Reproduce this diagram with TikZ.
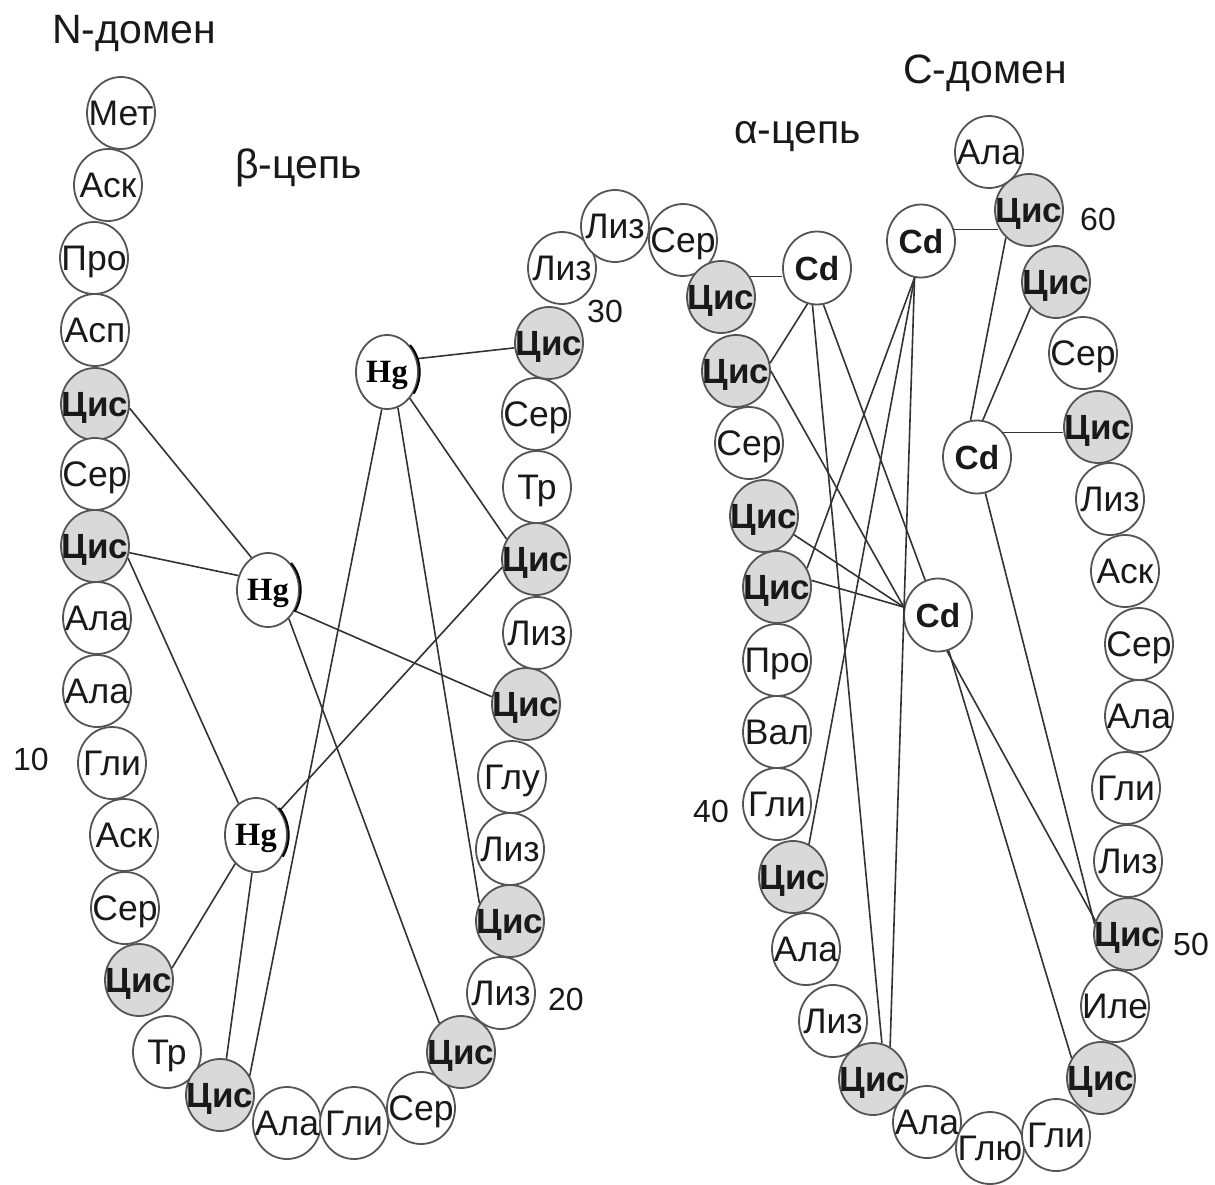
\documentclass[tikz,border=0pt]{standalone}
\usepackage{fontspec}
\setmainfont{Liberation Sans}
\newfontfamily\hgfont{Liberation Serif}
\usetikzlibrary{shapes.geometric}
\definecolor{olc}{gray}{0.33}
\definecolor{cysc}{gray}{0.85}
\definecolor{lnc}{gray}{0.2}
\definecolor{txc}{gray}{0.1}
\newcommand\zt[1]{\makebox[0pt]{#1}}
\tikzset{
  resnode/.style={ellipse, draw=olc, line width=1.8pt, fill=white,
    minimum width=68pt, minimum height=72pt, inner sep=0pt,
    text height=25.5pt, text depth=0pt, text=txc,
    font=\fontsize{35.5pt}{38pt}\selectfont},
  cysnode/.style={resnode, fill=cysc, text height=25pt,
    font=\fontsize{35pt}{38pt}\selectfont\bfseries},
  hgnode/.style={ellipse, draw=olc, line width=1.8pt, fill=white,
    minimum width=62pt, minimum height=74pt, inner sep=0pt,
    text height=21.5pt, text depth=0pt, text=black,
    font=\hgfont\fontsize{32.5pt}{34pt}\selectfont\bfseries},
  cdnode/.style={ellipse, draw=olc, line width=1.8pt, fill=white,
    minimum width=68pt, minimum height=73pt, inner sep=0pt,
    text height=24pt, text depth=0pt, text=txc,
    font=\fontsize{33.5pt}{36pt}\selectfont\bfseries},
  link/.style={draw=lnc, line width=1.6pt},
  numlabel/.style={anchor=base west, inner sep=0pt, text=txc,
    font=\fontsize{32pt}{34pt}\selectfont},
  titlelabel/.style={anchor=base west, inner sep=0pt, text=txc,
    font=\fontsize{41pt}{44pt}\selectfont},
  hgmark/.style={draw=black, line width=2pt},
}
\begin{document}
\begin{tikzpicture}[x=1pt,y=-1pt]
\fill[white] (0,0) rectangle (1215,1184);
\useasboundingbox (0,0) rectangle (1215,1184);

% titles and numbers
\node[titlelabel] (tN) at (52,43) {N-домен};
\node[titlelabel] (tB) at (235,178) {β-цепь};
\node[titlelabel] (tA) at (734,143) {α-цепь};
\node[titlelabel] (tC) at (903,83) {C-домен};
\node[numlabel] (n10) at (13,770) {10};
\node[numlabel] (n20) at (548,1010) {20};
\node[numlabel] (n30) at (587,322) {30};
\node[numlabel] (n40) at (693,822) {40};
\node[numlabel] (n50) at (1173,955) {50};
\node[numlabel] (n60) at (1080,230) {60};

% beta chain
\node[resnode] (b1) at (121,113) {\zt{Мет}};
\node[resnode] (b2) at (108,185) {\zt{Аск}};
\node[resnode] (b3) at (94,258) {\zt{Про}};
\node[resnode] (b4) at (95,330) {\zt{Асп}};
\node[cysnode] (b5) at (95,404) {\zt{Цис}};
\node[resnode] (b6) at (95,474) {\zt{Сер}};
\node[cysnode] (b7) at (95,546) {\zt{Цис}};
\node[resnode] (b8) at (97,618) {\zt{Ала}};
\node[resnode] (b9) at (97,691) {\zt{Ала}};
\node[resnode] (b10) at (112,763) {\zt{Гли}};
\node[resnode] (b11) at (124,835) {\zt{Аск}};
\node[resnode] (b12) at (125,908) {\zt{Сер}};
\node[cysnode] (b13) at (139,980) {\zt{Цис}};
\node[resnode] (b14) at (167,1052) {\zt{Тр}};
\node[cysnode] (b15) at (220,1095) {\zt{Цис}};
\node[resnode] (b16) at (287,1123) {\zt{Ала}};
\node[resnode] (b17) at (354,1123) {\zt{Гли}};
\node[resnode] (b18) at (421,1108) {\zt{Сер}};
\node[cysnode] (b19) at (461,1052) {\zt{Цис}};
\node[resnode] (b20) at (501,993) {\zt{Лиз}};
\node[cysnode] (b21) at (510,921) {\zt{Цис}};
\node[resnode] (b22) at (510,849) {\zt{Лиз}};
\node[resnode] (b23) at (512,777) {\zt{Глу}};
\node[cysnode] (b24) at (526,704) {\zt{Цис}};
\node[resnode] (b25) at (537,633) {\zt{Лиз}};
\node[cysnode] (b26) at (536,559) {\zt{Цис}};
\node[resnode] (b27) at (537,487) {\zt{Тр}};
\node[resnode] (b28) at (536,414) {\zt{Сер}};
\node[cysnode] (b29) at (549,343) {\zt{Цис}};
\node[resnode] (b30) at (562,268) {\zt{Лиз}};
\node[resnode] (b31) at (615,226) {\zt{Лиз}};
\node[resnode] (b32) at (683,240) {\zt{Сер}};

% alpha chain
\node[cysnode] (a33) at (721,297) {\zt{Цис}};
\node[cysnode] (a34) at (736,371) {\zt{Цис}};
\node[resnode] (a35) at (749,443) {\zt{Сер}};
\node[cysnode] (a36) at (764,516) {\zt{Цис}};
\node[cysnode] (a37) at (777,587) {\zt{Цис}};
\node[resnode] (a38) at (777,660) {\zt{Про}};
\node[resnode] (a39) at (777,732) {\zt{Вал}};
\node[resnode] (a40) at (777,804) {\zt{Гли}};
\node[cysnode] (a41) at (793,877) {\zt{Цис}};
\node[resnode] (a42) at (806,949) {\zt{Ала}};
\node[resnode] (a43) at (833,1021) {\zt{Лиз}};
\node[cysnode] (a44) at (873,1079) {\zt{Цис}};
\node[resnode] (a45) at (927,1122) {\zt{Ала}};
\node[resnode] (a46) at (990,1148) {\zt{Глю}};
\node[resnode] (a47) at (1056,1135) {\zt{Гли}};
\node[cysnode] (a48) at (1101,1078) {\zt{Цис}};
\node[resnode] (a49) at (1115,1006) {\zt{Иле}};
\node[cysnode] (a50) at (1128,934) {\zt{Цис}};
\node[resnode] (a51) at (1128,861) {\zt{Лиз}};
\node[resnode] (a52) at (1126,788) {\zt{Гли}};
\node[resnode] (a53) at (1139,716) {\zt{Ала}};
\node[resnode] (a54) at (1139,644) {\zt{Сер}};
\node[resnode] (a55) at (1125,571) {\zt{Аск}};
\node[resnode] (a56) at (1110,499) {\zt{Лиз}};
\node[cysnode] (a57) at (1098,427) {\zt{Цис}};
\node[resnode] (a58) at (1083,353) {\zt{Сер}};
\node[cysnode] (a59) at (1056,282) {\zt{Цис}};
\node[cysnode] (a60) at (1029,210) {\zt{Цис}};
\node[resnode] (a61) at (989,152) {\zt{Ала}};

% metal ions
\node[hgnode] (hg1) at (387,372) {\zt{Hg}};
\node[hgnode] (hg2) at (268,590) {\zt{Hg}};
\node[hgnode] (hg3) at (256,835) {\zt{Hg}};
\node[cdnode] (cd1) at (817,268) {\zt{Cd}};
\node[cdnode] (cd2) at (921,241) {\zt{Cd}};
\node[cdnode] (cd3) at (977,457) {\zt{Cd}};
\node[cdnode] (cd4) at (938,615) {\zt{Cd}};

% Hg bonds
\draw[link] (hg1.24) -- (b29.188);
\draw[link] (hg1.-49) -- (b26.146);
\draw[link] (hg1.-73) -- (b21.150);
\draw[link] (hg1.-98) -- (b15.33);
\draw[link] (b5.-7) -- (hg2.117);
\draw[link] (b7.-11) -- (hg2.154);
\draw[link] (hg2.-38) -- (b24.168);
\draw[link] (hg2.-54) -- (b19.127);
\draw[link] (b7.-20) -- (hg3.119);
\draw[link] (hg3.46) -- (b26.194);
\draw[link] (hg3.-126) -- (b13.20);
\draw[link] (hg3.-96) -- (b15.80);

% Cd bonds
\draw[link] (a33.35) -- (a33.35 -| cd1.west);
\draw[link] (cd1.-105) -- (a34.13);
\draw[link] (cd1.-97) -- (a44.76);
\draw[link] (cd1.-80) -- (cd4);
\draw[link] (cd4) -- (a48.146);
\draw[link] (cd2.19) -- (cd2.19 -| a60.210);
\draw[link] (cd2.-100) -- (a37.32);
\draw[link] (cd2.-100) -- (a41.64);
\draw[link] (cd2.-100) -- (a44.62);
\draw[link] (cd3.43) -- (cd3.43 -| a57.west);
\draw[link] (cd3.100) -- (a60.-130);
\draw[link] (cd3.81) -- (a59.-135);
\draw[link] (cd3.-77) -- (a50.163);
\draw[link] (a34.east) -- (cd4.167);
\draw[link] (a36.-32) -- (cd4.167);
\draw[link] (a37.11) -- (cd4.167);
\draw[link] (cd4.-76) -- (a50.158);

% dark marks on the right of the Hg circles
\draw[hgmark] ([xshift=23pt,yshift=27pt]hg1.center) arc[start angle=45,end angle=-35,x radius=33pt,y radius=38pt];
\draw[hgmark] ([xshift=23pt,yshift=27pt]hg2.center) arc[start angle=45,end angle=-35,x radius=33pt,y radius=38pt];
\draw[hgmark] ([xshift=23pt,yshift=27pt]hg3.center) arc[start angle=45,end angle=-35,x radius=33pt,y radius=38pt];
\end{tikzpicture}
\end{document}
